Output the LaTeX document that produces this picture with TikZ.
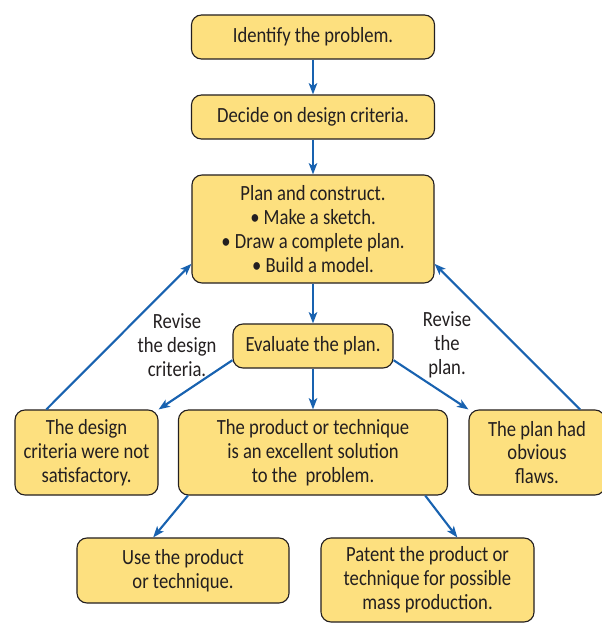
\documentclass[tikz,border=0pt]{standalone}
\usepackage{fontspec}
\setmainfont{Carlito}[FakeStretch=0.86]
\usetikzlibrary{arrows.meta}
\definecolor{BoxYellow}{HTML}{FDE07F}
\definecolor{ArrowBlue}{HTML}{1862B0}
\definecolor{InkGray}{HTML}{231F20}

\begin{document}
\begin{tikzpicture}[x=0.025cm, y=-0.025cm,
    stage/.style={draw=InkGray, fill=BoxYellow, rounded corners=0.25cm, line width=0.8pt,
        align=center, text=InkGray, inner sep=0pt, font=\fontsize{15.4}{17}\selectfont},
    note/.style={align=center, text=InkGray, inner sep=0pt, font=\fontsize{15.4}{17}\selectfont},
    flow/.style={draw=ArrowBlue, line width=1.5pt, -{Stealth[length=8pt, width=6pt, inset=2pt]}}]
    \useasboundingbox (0,0) rectangle (602,624);
    % Main column
    \node[stage, minimum width=6.075cm, minimum height=1.1cm] (ident) at (313,37) {Identify the problem.};
    \node[stage, minimum width=6.075cm, minimum height=1.1cm] (decide) at (313,117) {Decide on design criteria.};
    \node[stage, minimum width=6.05cm, minimum height=2.7cm] (plan) at (313,229)
        {Plan and construct.\\ \textbullet\ Make a sketch.\\ \textbullet\ Draw a complete plan.\\ \textbullet\ Build a model.};
    \node[stage, minimum width=4cm, minimum height=1.1cm] (eval) at (313,346) {Evaluate the plan.};
    % Outcomes
    \node[stage, minimum width=3.575cm, minimum height=2.125cm] (crit) at (86.5,452.5) {The design\\criteria were not\\satisfactory.};
    \node[stage, minimum width=6.725cm, minimum height=2.125cm] (good) at (313,452.5) {The product or technique\\is an excellent solution\\to the~ problem.};
    \node[stage, minimum width=3.4cm, minimum height=2.125cm] (flaws) at (537,452.5) {The plan had\\obvious\\flaws.};
    \node[stage, minimum width=5.3cm, minimum height=1.625cm] (use) at (183,570.5) {Use the product\\or technique.};
    \node[stage, minimum width=5.325cm, minimum height=2.1cm] (patent) at (427.5,580) {Patent the product or\\technique for possible\\mass production.};
    % Labels
    \node[note] (revcrit) at (177,345) {Revise\\the design\\criteria.};
    \node[note] (revplan) at (447,345) {Revise\\the\\plan.};
    % Arrows
    \draw[flow] (ident) -- (decide);
    \draw[flow] (decide) -- (plan);
    \draw[flow] (plan) -- (eval);
    \draw[flow] (eval) -- (good);
    \draw[flow] (eval.190) -- (crit.north east);
    \draw[flow] (eval.350) -- (flaws.north west);
    \draw[flow] (crit.133) -- (plan.196);
    \draw[flow] (flaws.45) -- (plan.344);
    \draw[flow] (good.199) -- (use.132);
    \draw[flow] (good.339) -- (patent.55);
\end{tikzpicture}
\end{document}
